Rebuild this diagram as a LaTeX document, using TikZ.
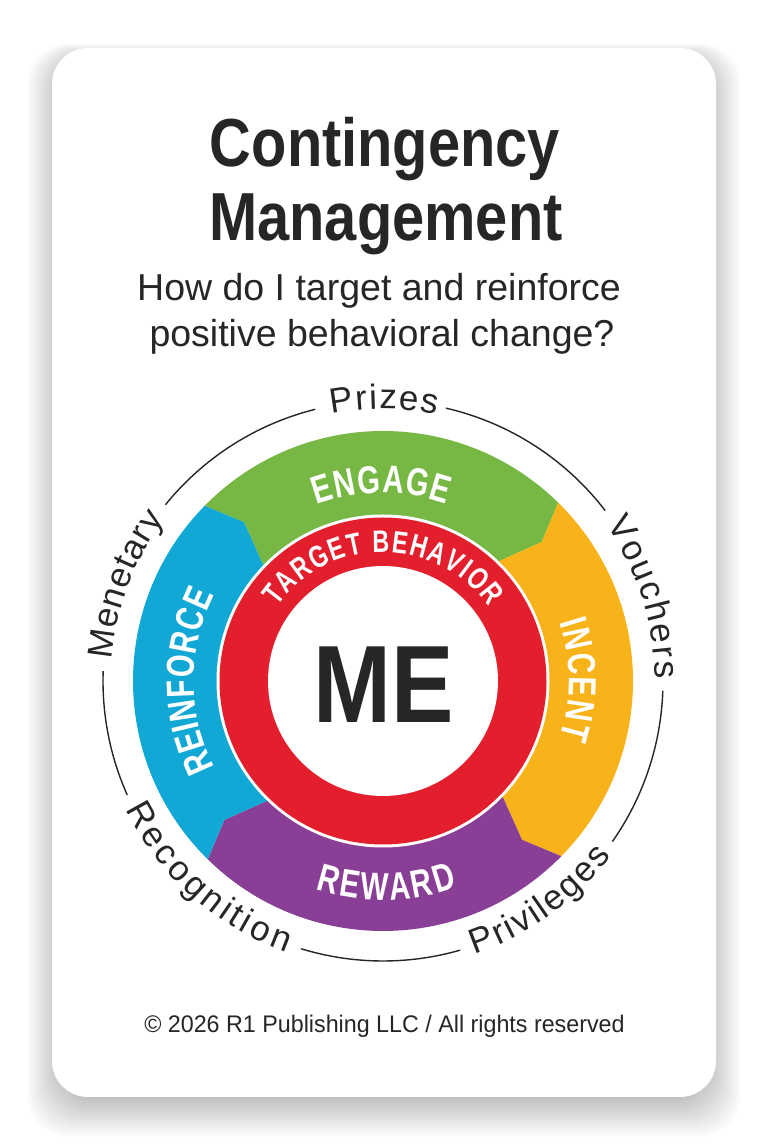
\documentclass[tikz,border=0pt]{standalone}
\usepackage{fontspec}
\setmainfont{Liberation Sans}
\newfontfamily\titlefam[FakeStretch=0.85]{Liberation Sans}
\newfontfamily\ringfam[FakeStretch=0.75]{Liberation Sans}
\newfontfamily\footfam[FakeStretch=0.97]{Liberation Sans}
\usetikzlibrary{decorations.text}
\definecolor{cmgreen}{HTML}{77B844}
\definecolor{cmyellow}{HTML}{F8B31B}
\definecolor{cmpurple}{HTML}{8A3F97}
\definecolor{cmblue}{HTML}{12A8D6}
\definecolor{cmred}{HTML}{E41F2D}
\definecolor{cmdark}{HTML}{262626}
\newcommand{\lblfont}{\fontsize{35}{35}\selectfont\color{cmdark}}
\newcommand{\ringtxt}{\ringfam\bfseries\fontsize{39}{39}\selectfont\color{white}}
\newcommand{\redtxt}{\ringfam\bfseries\fontsize{31}{31}\selectfont\color{white}}
\tikzset{
  titlestyle/.style={inner sep=0pt, text=cmdark, font=\titlefam\bfseries\fontsize{68}{70}\selectfont},
  substyle/.style={inner sep=0pt, text=cmdark, font=\fontsize{37.5}{40}\selectfont},
  footstyle/.style={inner sep=0pt, text=cmdark, font=\footfam\fontsize{24}{26}\selectfont},
  mestyle/.style={inner sep=0pt, text=cmdark, font=\titlefam\bfseries\fontsize{110}{110}\selectfont},
  ringline/.style={line width=1.4pt, draw=cmdark},
  curved/.style={decorate, decoration={text along path, text={#1}, text align=fit to path}}
}
\begin{document}
\begin{tikzpicture}[x=1pt,y=1pt]
\useasboundingbox (0,0) rectangle (769,1144);
\fill[white] (0,0) rectangle (769,1144);
% card shadow (soft, strongest below the card)
\foreach \i in {1,...,32} {
  \fill[black,opacity=0.009,rounded corners=40pt] (62-\i*1.1, 47-\i*1.25) rectangle (706+\i*1.1, 1086+\i*0.45);
}
\fill[white, rounded corners=36pt] (52,47) rectangle (716,1096);
% titles
\node[titlestyle, anchor=base] (t1) at (385, 977) {Contingency};
\node[titlestyle, anchor=base] (t2) at (386, 903) {Management};
\node[substyle, anchor=base] (s1) at (379, 843) {How do I target and reinforce};
\node[substyle, anchor=base] (s2) at (382, 797) {positive behavioral change?};
% wheel
\begin{scope}[shift={(383,463)}]
  \foreach \a/\col in {135.5/cmgreen, 45.5/cmyellow, -44.5/cmpurple, -134.5/cmblue} {
    \pgfmathsetmacro\b{\a-90}
    \fill[\col] (\a:250) arc[start angle=\a, end angle=\b, radius=250]
      -- ({\b-4.3}:211) -- ({\b+0.8}:164)
      arc[start angle=\b+0.8, end angle=\a+0.8, radius=164]
      -- ({\a-4.3}:211) -- cycle;
  }
  \fill[white] (0,0) circle[radius=166.5];
  \fill[cmred] (0,0) circle[radius=163.5];
  \fill[white] (0,0) circle[radius=115];
  \node[mestyle] (me) at (1,-4) {ME};
  % ring labels
  \path[curved={|\ringtxt|ENGAGE}] (110.6:188) arc[start angle=110.6, end angle=70.3, radius=188];
  \path[curved={|\ringtxt|INCENT}] (18.4:186) arc[start angle=18.4, end angle=-17.8, radius=186];
  \path[curved={|\ringtxt|REWARD}] (252:219) arc[start angle=252, end angle=289.8, radius=219];
  \path[curved={|\ringtxt|REINFORCE}] (207.3:189) arc[start angle=207.3, end angle=153, radius=189];
  \path[curved={|\redtxt|TARGET BEHAVIOR}] (145:129) arc[start angle=145, end angle=35, radius=129];
  % outer thin ring
  \draw[ringline] (104:280) arc[start angle=104, end angle=141, radius=280];
  \draw[ringline] (178:280) arc[start angle=178, end angle=204, radius=280];
  \draw[ringline] (253:280) arc[start angle=253, end angle=286, radius=280];
  \draw[ringline] (-35:280) arc[start angle=-35, end angle=-2, radius=280];
  \draw[ringline] (37.5:280) arc[start angle=37.5, end angle=77, radius=280];
  % outer labels
  \path[curved={|\lblfont|Prizes}] (101:272) arc[start angle=101, end angle=78.5, radius=272];
  \path[curved={|\lblfont|Vouchers}] (35:272) arc[start angle=35, end angle=0.5, radius=272];
  \path[curved={|\lblfont|Menetary}] (175.5:272) arc[start angle=175.5, end angle=143.5, radius=272];
  \path[curved={|\lblfont|Privileges}] (-71.5:288) arc[start angle=-71.5, end angle=-37.5, radius=288];
  \path[curved={|\lblfont|Recognition}] (206.5:288) arc[start angle=206.5, end angle=250.5, radius=288];
\end{scope}
\node[footstyle, anchor=base] (ft) at (384.5, 111) {© 2026 R1 Publishing LLC / All rights reserved};
\end{tikzpicture}
\end{document}
